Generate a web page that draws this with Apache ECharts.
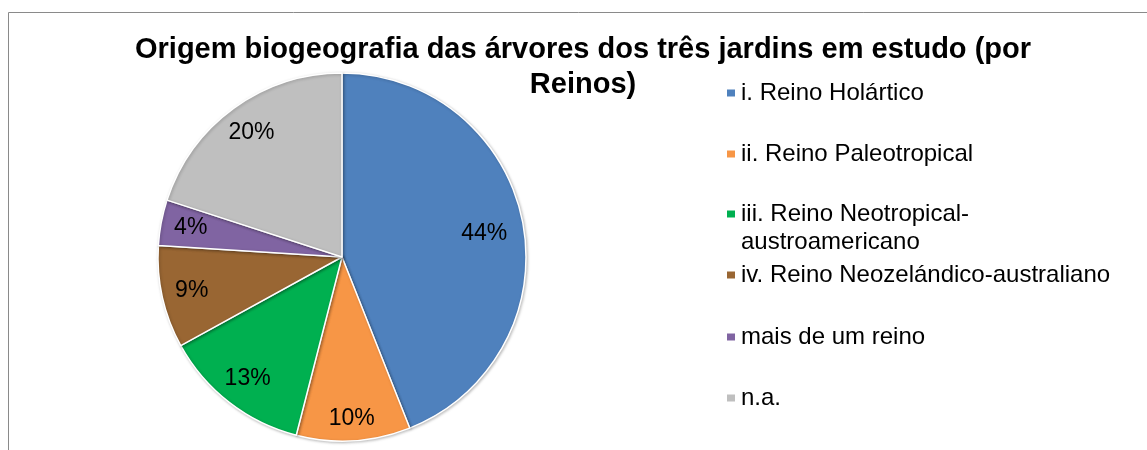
<!DOCTYPE html>
<html>
<head>
<meta charset="utf-8">
<script src="https://cdn.jsdelivr.net/npm/echarts@6/dist/echarts.min.js"></script>
<style>
    html, body { margin: 0; padding: 0; background: #fff; }
    #pie { width: 1147px; height: 450px; }
</style>
</head>
<body>
<div id="pie"></div>
<script>
// dados
const reinos = [
    'i. Reino Holártico',
    'ii. Reino Paleotropical',
    'iii. Reino Neotropical-austroamericano',
    'iv. Reino Neozelándico-australiano',
    'mais de um reino',
    'n.a.'
]
const percentagens = [44, 10, 13, 9, 4, 20]
const cores = ['#4F81BD', '#F79646', '#00B050', '#996633', '#8064A2', '#BFBFBF']

const titulo = 'Origem biogeografia das árvores dos três jardins em estudo (por\nReinos)'
const fonte = '"Liberation Sans", Arial, sans-serif'

// centro das legendas (y), uma por linha
const legendaY = [93, 154, 214, 275, 337, 398]

let myChart = echarts.init(document.querySelector('#pie'))

let dados = reinos.map((nome, i) => {
    return { name: nome, value: percentagens[i] }
})

// cada item da legenda num bloco próprio, para acertar as alturas
let legendas = reinos.map((nome, i) => {
    let multi = nome.indexOf('Neotropical-') > -1
    return {
        data: [nome],
        orient: 'vertical',
        left: 725,
        top: multi ? legendaY[i] - 42 : legendaY[i] - 14,
        padding: 0,
        itemWidth: 10,
        itemHeight: 9,
        icon: 'rect',
        selectedMode: false,
        formatter: function (n) {
            // texto em duas linhas, com a primeira alinhada ao quadrado
            if (n.indexOf('Neotropical-') > -1) {
                return ' \n' + n.replace('Neotropical-', 'Neotropical-\n')
            }
            return n
        },
        textStyle: {
            fontFamily: fonte,
            fontSize: 24,
            lineHeight: 28,
            color: '#000'
        }
    }
})

const option = {
    animation: false,
    color: cores,
    title: {
        text: titulo,
        left: 583,
        top: 32,
        padding: 0,
        textAlign: 'center',
        textStyle: {
            fontFamily: fonte,
            fontSize: 29,
            fontWeight: 'bold',
            lineHeight: 35,
            color: '#000'
        }
    },
    legend: legendas,
    graphic: [{
        // moldura da área do gráfico
        type: 'rect',
        silent: true,
        shape: { x: 8.5, y: 12.5, width: 1300, height: 600 },
        style: { fill: 'none', stroke: '#8a8a8a', lineWidth: 1 }
    }],
    series: [
        {
            name: 'reinos',
            type: 'pie',
            center: [342, 257],
            radius: [0, 184],
            startAngle: 90,
            clockwise: true,
            silent: true,
            label: { show: false },
            labelLine: { show: false },
            itemStyle: {
                borderColor: '#fff',
                borderWidth: 1.5,
                shadowBlur: 3,
                shadowOffsetX: 1,
                shadowOffsetY: 1,
                shadowColor: 'rgba(0,0,0,0.25)'
            },
            data: dados
        },
        {
            // só para as percentagens, mais perto da borda
            name: 'rotulos',
            type: 'pie',
            center: [342, 257],
            radius: [118, 184],
            startAngle: 90,
            clockwise: true,
            silent: true,
            itemStyle: { color: 'rgba(0,0,0,0)', borderWidth: 0 },
            label: {
                show: true,
                position: 'inside',
                formatter: '{c}%',
                fontFamily: fonte,
                fontSize: 23,
                color: '#000'
            },
            labelLine: { show: false },
            data: dados.map((d, i) => {
                if (i === 0) {
                    return { name: d.name, value: d.value, label: { offset: [-9, 6] } }
                }
                if (i === 1) {
                    return { name: d.name, value: d.value, label: { offset: [0, 8] } }
                }
                return d
            })
        }
    ]
}

myChart.setOption(option)
</script>
</body>
</html>
